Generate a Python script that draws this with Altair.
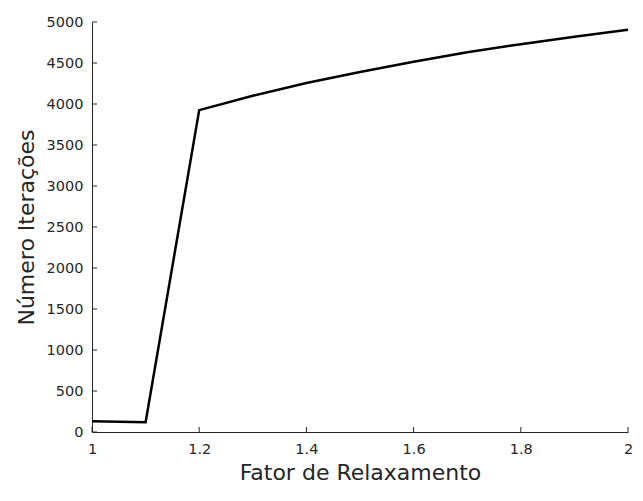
import altair as alt
import pandas as pd

fator = [1.0, 1.1, 1.2, 1.3, 1.4, 1.5, 1.6, 1.7, 1.8, 1.9, 2.0]
iteracoes = [130, 118, 3925, 4100, 4255, 4390, 4515, 4630, 4730, 4820, 4905]

x_ticks = [1.0, 1.2, 1.4, 1.6, 1.8, 2.0]
y_ticks = [0, 500, 1000, 1500, 2000, 2500, 3000, 3500, 4000, 4500, 5000]

W, H = 536, 410
TXT = "#262626"
FONT = "DejaVu Sans"

line_df = pd.DataFrame({"f": fator, "n": iteracoes})
xt_df = pd.DataFrame({"f": x_ticks})
yt_df = pd.DataFrame({"n": y_ticks})

x_axis = alt.Axis(
    title="Fator de Relaxamento", values=x_ticks, grid=False, ticks=False,
    labelPadding=10, labelFontSize=14.5, labelColor=TXT, labelFont=FONT,
    labelExpr="datum.value == 1 || datum.value == 2 ? format(datum.value, 'd') : format(datum.value, '.1f')",
    domainColor=TXT, domainWidth=1, titleFont=FONT, titleFontSize=22,
    titleFontWeight="normal", titleColor=TXT, titleX=W / 2, titleY=47,
    titleBaseline="alphabetic", titleAlign="center", labelFlush=False,
)
y_axis = alt.Axis(
    title="Número Iterações", values=y_ticks, grid=False, ticks=False,
    labelPadding=9, labelFontSize=14.5, labelColor=TXT, labelFont=FONT,
    format="d", domainColor=TXT, domainWidth=1, titleFont=FONT,
    titleFontSize=22, titleFontWeight="normal", titleColor=TXT,
    titleX=-59, titleY=H / 2, titleAngle=270, titleBaseline="alphabetic",
    titleAlign="center", labelFlush=False,
)

xs = alt.Scale(domain=[1, 2], nice=False, zero=False)
ys = alt.Scale(domain=[0, 5000], nice=False)

line = alt.Chart(line_df).mark_line(color="black", strokeWidth=2.5, clip=False).encode(
    x=alt.X("f:Q", scale=xs, axis=x_axis),
    y=alt.Y("n:Q", scale=ys, axis=y_axis),
)

xticks = alt.Chart(xt_df).mark_rule(color=TXT, strokeWidth=1).encode(
    x=alt.X("f:Q", scale=xs, axis=x_axis),
    y=alt.value(H),
    y2=alt.value(H - 5),
)

yticks = alt.Chart(yt_df).mark_rule(color=TXT, strokeWidth=1).encode(
    y=alt.Y("n:Q", scale=ys, axis=y_axis),
    x=alt.value(0),
    x2=alt.value(5),
)

chart = alt.layer(xticks, yticks, line).properties(
    width=W, height=H,
    autosize=alt.AutoSizeParams(type="none"),
    padding={"left": 84, "top": 14, "right": 7, "bottom": 52},
    background="white",
).configure_view(stroke=None)

chart.save("out.html", embed_options={"renderer": "svg", "actions": False})
